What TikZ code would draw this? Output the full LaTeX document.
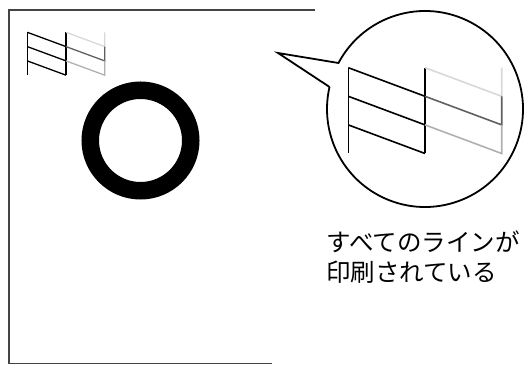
\documentclass[tikz,border=0pt]{standalone}
\usepackage{fontspec}
\usepackage{xcolor}
\usetikzlibrary{positioning,calc}
\newfontfamily\jpfont{Noto Sans CJK JP}
\definecolor{paperedge}{RGB}{68,68,68}
\definecolor{inkfaint}{RGB}{216,216,216}
\definecolor{inkmid}{RGB}{96,96,96}
\definecolor{inklight}{RGB}{176,176,176}
\tikzset{
  paper/.style={draw=paperedge, line width=1.3pt},
  patline/.style={draw=black, line cap=butt},
  bubble/.style={draw=black, line width=1.8pt, line join=miter},
  caption/.style={align=left, inner sep=0pt, font=\jpfont\fontsize{24.5pt}{30pt}\selectfont},
  checkpat/.pic={
    % left block, all lines printed
    \draw[patline] (0,0) -- (0,-3);
    \foreach \r in {0,1,2}
      \draw[patline] (0,-\r) -- (1,-\r-1);
    \draw[patline] (1,0) -- (1,-3);
    % right block, fading lines
    \draw[patline, draw=inkfaint] (1,0) -- (2,-1) -- (2,0);
    \draw[patline, draw=inkmid] (1,-1) -- (2,-2) -- (2,-1);
    \draw[patline, draw=inklight] (1,-2) -- (2,-3) -- (2,-2);
  }
}
\begin{document}
\begin{tikzpicture}[x=1pt, y=1pt]
    \useasboundingbox (0,0) rectangle (524,364);
    % sheet
    \draw[paper] (315,354) -- (9,354) -- (9,0.6) -- (272,0.6);
    \coordinate (smallat) at (27.3,331.7);
    \pic[line width=1.3pt, x=38.7pt, y=14.3pt] (small) at (smallat) {checkpat};
    \node[circle, draw=black, line width=17.5pt, minimum size=100.5pt, inner sep=0pt] (ring) at (140.5,223.5) {};
    % magnified view
    \node[circle, minimum size=196pt, inner sep=0pt, outer sep=0pt] (zoom) at (425,255) {};
    \coordinate (tip) at (278,311);
    \draw[bubble] (zoom.167) -- (tip) -- (zoom.152) arc[start angle=152, end angle=-193, radius=98pt];
    \coordinate (bigat) at (348.3,296.3);
    \pic[line width=1.6pt, x=76.7pt, y=28.6pt] (big) at (bigat) {checkpat};
    \node[caption, anchor=base west] (note) at (326,82) {すべてのラインが\\印刷されている};
  \end{tikzpicture}
\end{document}
